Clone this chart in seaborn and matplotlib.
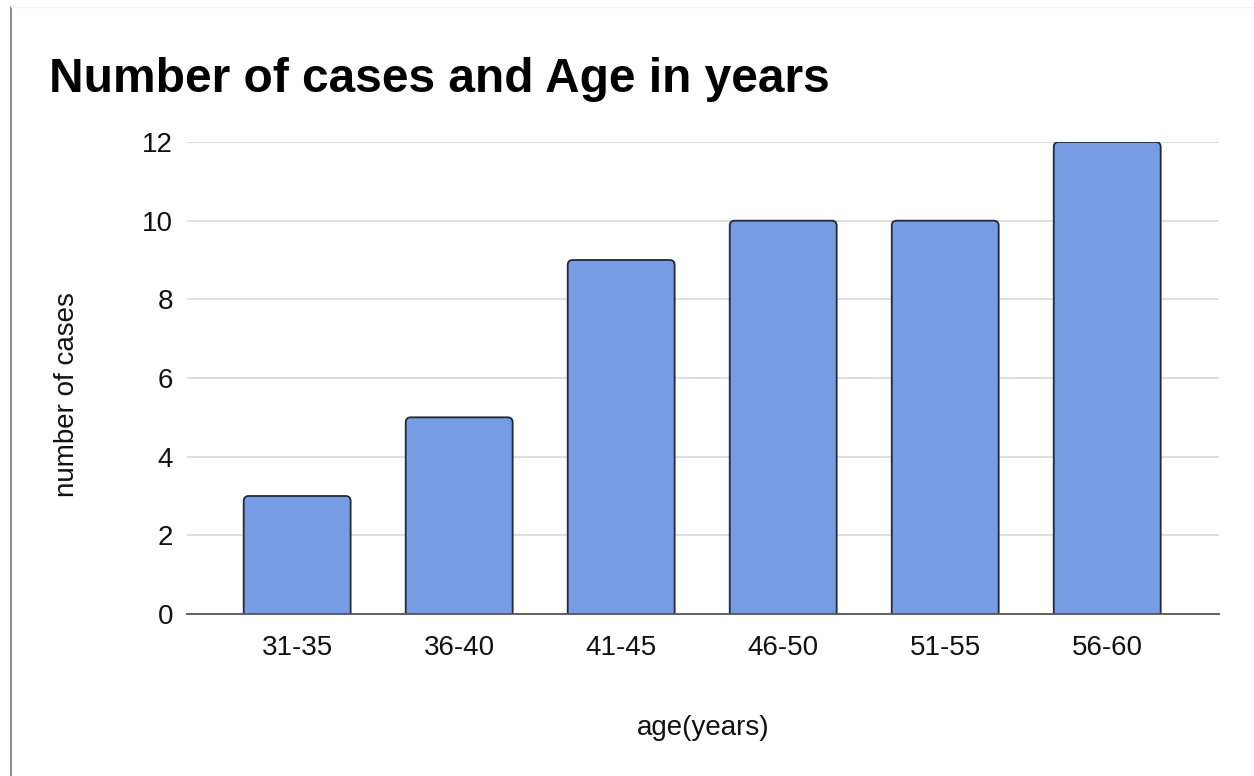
import pandas as pd
import matplotlib.pyplot as plt
import seaborn as sns
from matplotlib.lines import Line2D
from matplotlib.patches import FancyBboxPatch

# Chart data
age_groups = ["31-35", "36-40", "41-45", "46-50", "51-55", "56-60"]
case_counts = [3, 5, 9, 10, 10, 12]
y_ticks = [0, 2, 4, 6, 8, 10, 12]

df = pd.DataFrame({"age": age_groups, "cases": case_counts})

sns.set_theme(style="white")
plt.rcParams["font.family"] = ["Liberation Sans", "DejaVu Sans"]

fig = plt.figure(figsize=(12.54, 7.76), dpi=100)
ax = fig.add_axes([187 / 1254, 1 - 614 / 776, (1219 - 187) / 1254, (614 - 142) / 776])

sns.barplot(data=df, x="age", y="cases", color="#779ce4", saturation=1,
            width=0.66, edgecolor="#1f2a3a", linewidth=1.3, ax=ax, zorder=3)

ax.set_xlim(-0.68, 5.69)
ax.set_ylim(0, 12)

# swap the square bars for ones with slightly rounded top corners
px_x = 1032 / 6.37          # pixels per x unit
px_y = 472 / 12             # pixels per y unit
aspect = px_x / px_y
r = 5 / px_x
for bar in list(ax.patches):
    x, y = bar.get_x(), bar.get_y()
    w, h = bar.get_width(), bar.get_height()
    rounded = FancyBboxPatch((x, y - 0.3), w, h + 0.3,
                             boxstyle=f"round,pad=0,rounding_size={r}",
                             mutation_aspect=aspect,
                             facecolor=bar.get_facecolor(), edgecolor="#1f2a3a",
                             linewidth=1.3, zorder=3)
    bar.remove()
    ax.add_patch(rounded)

ax.set_yticks(y_ticks)
ax.yaxis.grid(True, color="#d9d9d9", linewidth=1.2, zorder=0)
ax.set_axisbelow(True)
for side in ["top", "right", "left"]:
    ax.spines[side].set_visible(False)
ax.spines["bottom"].set_color("#555555")
ax.spines["bottom"].set_linewidth(1.3)
ax.spines["bottom"].set_zorder(4)
ax.tick_params(axis="both", length=0, labelsize=20, colors="#111111")
ax.tick_params(axis="y", pad=10)
ax.tick_params(axis="x", pad=15)

ax.set_xlabel("age(years)", fontsize=20, labelpad=39, color="#111111")
ax.set_ylabel("number of cases", fontsize=20, color="#111111")
ax.yaxis.set_label_coords(-0.104, 0.464)

fig.text(49 / 1254, 1 - 79 / 776, "Number of cases and Age in years",
         fontsize=34.5, fontweight="bold", ha="left", va="center", color="#000000")

# page border on the left edge
fig.add_artist(Line2D([11 / 1254, 11 / 1254], [0, 1 - 7 / 776],
                      transform=fig.transFigure, color="#777777", linewidth=1.2))
fig.add_artist(Line2D([11 / 1254, 1], [1 - 7 / 776, 1 - 7 / 776],
                      transform=fig.transFigure, color="#f2f2f2", linewidth=1))

fig.savefig("out.png", dpi=100)
